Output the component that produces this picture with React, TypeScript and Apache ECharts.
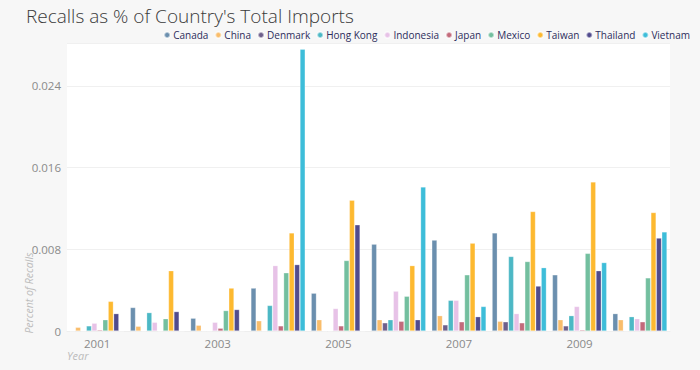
import React, { useEffect, useRef } from "react";
import * as echarts from "echarts";

const years = ["2001", "2002", "2003", "2004", "2005", "2006", "2007", "2008", "2009", "2010"];
const countries = ["Canada", "China", "Denmark", "Hong Kong", "Indonesia", "Japan", "Mexico", "Taiwan", "Thailand", "Vietnam"];
const colors = ["#6b8fae", "#f9bd6b", "#6e5f8b", "#4cb8c5", "#e7c2e7", "#c26a7b", "#73bf9f", "#fdb930", "#514b8d", "#3dbdd9"];

const canada = [0, 0.0023, 0.00125, 0.0042, 0.0037, 0.0085, 0.0089, 0.0096, 0.0055, 0.0017];
const china = [0.00036, 0.00046, 0.00056, 0.001, 0.0011, 0.0011, 0.0015, 0.00095, 0.0011, 0.0011];
const denmark = [0, 0, 0, 0, 0, 0.0008, 0.0006, 0.0009, 0.0005, 0];
const hongKong = [0.0005, 0.0018, 0, 0.0025, 0, 0.0011, 0.003, 0.0073, 0.0015, 0.0014];
const indonesia = [0.00076, 0.00085, 0.00085, 0.0064, 0.0022, 0.0039, 0.003, 0.0017, 0.0024, 0.0012];
const japan = [0.0001, 0, 0.00027, 0.0005, 0.0005, 0.00095, 0.0009, 0.0008, 0.0001, 0.0009];
const mexico = [0.0011, 0.0012, 0.002, 0.0057, 0.0069, 0.0034, 0.0055, 0.0068, 0.0076, 0.0052];
const taiwan = [0.0029, 0.0059, 0.0042, 0.0096, 0.0128, 0.0064, 0.0086, 0.0117, 0.0146, 0.0116];
const thailand = [0.0017, 0.0019, 0.0021, 0.0065, 0.0104, 0.0011, 0.0014, 0.0044, 0.0059, 0.0091];
const vietnam = [0, 0, 0, 0.0276, 0, 0.0141, 0.0024, 0.0062, 0.0067, 0.0097];

const seriesValues = [canada, china, denmark, hongKong, indonesia, japan, mexico, taiwan, thailand, vietnam];

const FONT = "'Open Sans', 'Noto Sans', sans-serif";

export default function App() {
  const ref = useRef<HTMLDivElement>(null);
  useEffect(() => {
    if (!ref.current) return;
    const chart = echarts.init(ref.current, undefined, { renderer: "svg" });
    chart.setOption({
      animation: false,
      backgroundColor: "#f7f7f7",
      color: colors,
      title: {
        text: "Recalls as % of Country's Total Imports",
        left: 21,
        top: 1,
        textStyle: { fontFamily: FONT, fontSize: 19, fontWeight: 300, color: "#3a3a3a" },
      },
      legend: {
        data: countries,
        right: 5,
        top: 25,
        icon: "circle",
        itemWidth: 6,
        itemHeight: 6,
        itemGap: 6,
        textStyle: { fontFamily: FONT, fontSize: 10, color: "#2d2d5c", padding: [0, 0, 0, -2] },
      },
      grid: {
        left: 67,
        right: 30,
        top: 43,
        bottom: 39,
        show: true,
        backgroundColor: "#ffffff",
        borderWidth: 0,
      },
      xAxis: {
        type: "category",
        data: years,
        axisLine: { show: true, lineStyle: { color: "#eeeeee" } },
        axisTick: { show: false },
        axisLabel: { interval: 1, fontFamily: FONT, fontSize: 11.5, color: "#8a8a8a", margin: 6 },
      },
      yAxis: {
        type: "value",
        min: 0,
        max: 0.0282,
        interval: 0.008,
        axisLine: { show: false },
        axisTick: { show: false },
        splitLine: { lineStyle: { color: "#f0f0f0" } },
        axisLabel: { showMaxLabel: false, fontFamily: FONT, fontSize: 11.5, color: "#8a8a8a", margin: 6 },
      },
      graphic: [
        {
          type: "text",
          x: 29,
          y: 293,
          rotation: Math.PI / 2,
          style: {
            text: "Percent of Recalls",
            fontFamily: FONT,
            fontSize: 10.5,
            fontStyle: "italic",
            fill: "#bcbcbc",
            align: "center",
            verticalAlign: "middle",
          },
        },
        {
          type: "text",
          x: 67,
          y: 355,
          style: {
            text: "Year",
            fontFamily: FONT,
            fontSize: 11,
            fontStyle: "italic",
            fill: "#bcbcbc",
            align: "left",
            verticalAlign: "middle",
          },
        },
      ],
      series: countries.map((name, i) => ({
        name,
        type: "bar",
        data: seriesValues[i],
        barCategoryGap: "10%",
        barGap: "5%",
        itemStyle: { color: colors[i], borderColor: "rgba(255,255,255,0.5)", borderWidth: 0.5 },
      })),
    });
    return () => chart.dispose();
  }, []);
  return <div ref={ref} style={{ position: "fixed", left: 0, top: 0, width: 700, height: 370 }} />;
}
